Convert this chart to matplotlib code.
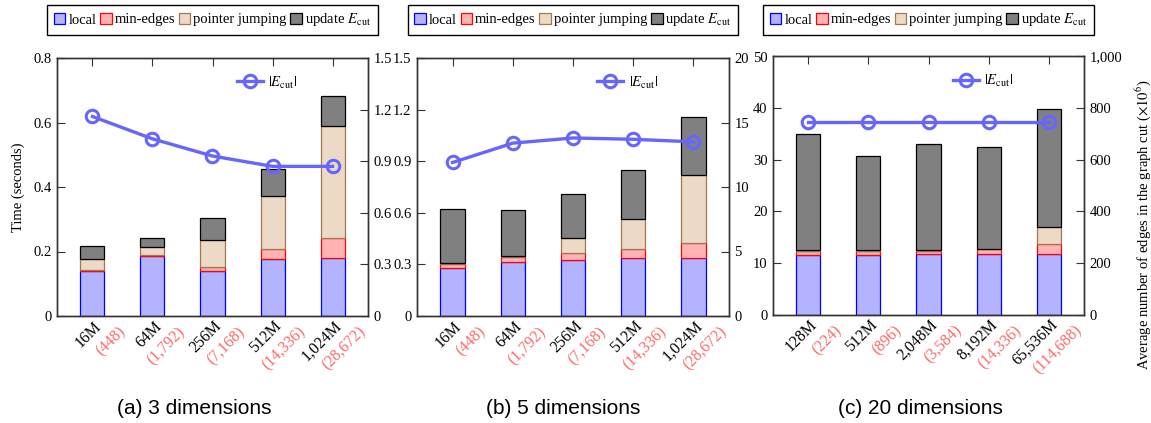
import matplotlib
matplotlib.use("Agg")
import matplotlib.pyplot as plt
from matplotlib.patches import Patch
import matplotlib.transforms as mtrans
import numpy as np

plt.rcParams['font.family'] = 'serif'
plt.rcParams['font.serif'] = ['Liberation Serif', 'DejaVu Serif']
plt.rcParams['mathtext.fontset'] = 'stix'

# ---------------- data ----------------
series_names = ['local', 'min-edges', 'pointer jumping', r'update $E_{\mathrm{cut}}$']

# (a) 3 dimensions
a_sizes = ['16M', '64M', '256M', '512M', '1,024M']
a_parts = ['(448)', '(1,792)', '(7,168)', '(14,336)', '(28,672)']
a_local = [0.140, 0.186, 0.140, 0.176, 0.180]
a_minedges = [0.003, 0.002, 0.011, 0.031, 0.061]
a_pointer = [0.033, 0.025, 0.085, 0.166, 0.349]
a_update = [0.041, 0.030, 0.067, 0.082, 0.093]
a_ecut = [1.16, 1.03, 0.93, 0.87, 0.87]

# (b) 5 dimensions
b_sizes = ['16M', '64M', '256M', '512M', '1,024M']
b_parts = ['(448)', '(1,792)', '(7,168)', '(14,336)', '(28,672)']
b_local = [0.277, 0.316, 0.326, 0.337, 0.339]
b_minedges = [0.025, 0.027, 0.040, 0.051, 0.087]
b_pointer = [0.004, 0.008, 0.087, 0.178, 0.392]
b_update = [0.316, 0.263, 0.254, 0.281, 0.341]
b_ecut = [11.9, 13.4, 13.8, 13.7, 13.5]

# (c) 20 dimensions
c_sizes = ['128M', '512M', '2,048M', '8,192M', '65,536M']
c_parts = ['(224)', '(896)', '(3,584)', '(14,336)', '(114,688)']
c_local = [11.6, 11.6, 11.7, 11.8, 11.8]
c_minedges = [0.8, 0.8, 0.7, 0.8, 1.8]
c_pointer = [0.05, 0.05, 0.05, 0.05, 3.45]
c_update = [22.55, 18.35, 20.55, 19.75, 22.75]
c_ecut = [748, 748, 748, 748, 748]

a_left_ticks = [0, 0.2, 0.4, 0.6, 0.8]
a_right_ticks = [0, 0.3, 0.6, 0.9, 1.2, 1.5]
b_left_ticks = [0, 0.3, 0.6, 0.9, 1.2, 1.5]
b_right_ticks = [0, 5, 10, 15, 20]
c_left_ticks = [0, 10, 20, 30, 40, 50]
c_right_ticks = [0, 200, 400, 600, 800, 1000]

captions = ['(a) 3 dimensions', '(b) 5 dimensions', '(c) 20 dimensions']

# ---------------- style ----------------
W, H = 1151, 423
fig = plt.figure(figsize=(W / 100, H / 100), dpi=100)

faces = ['#b3b3ff', '#ffb3b3', '#ecd9c6', '#808080']
edges = ['#0000ff', '#ff0000', '#a07850', '#000000']
line_color = '#6666ff'
red_lbl = '#ff6666'
spine_col = '#333333'
FS = 10.5      # tick labels
FS_LEG = 10.5  # legends
FS_X = 11.4    # x tick labels


def fmt_num(v):
    if float(v).is_integer():
        return '{:,}'.format(int(v))
    return '{:g}'.format(v)


def panel(px_rect, sizes, parts, segs, ecut, lticks, rticks, caption, cap_x,
          left_label=None):
    l, t, r, b = px_rect
    ax = fig.add_axes([l / W, 1 - b / H, (r - l) / W, (b - t) / H])
    x = np.arange(len(sizes))
    bottom = np.zeros(len(sizes))
    for vals, fc, ec in zip(segs, faces, edges):
        ax.bar(x, vals, 0.4, bottom=bottom, color=fc, edgecolor=ec, linewidth=0.9, zorder=2)
        bottom = bottom + np.array(vals)
    ax.set_xlim(-0.59, len(sizes) - 1 + 0.59)
    ax.set_ylim(lticks[0], lticks[-1])
    ax.set_yticks(lticks)
    ax.set_yticklabels([fmt_num(v) for v in lticks], fontsize=FS)
    ax.set_xticks(x)
    ax.set_xticklabels([])
    ax.tick_params(axis='x', top=True, bottom=False, direction='in', length=6,
                   color=spine_col)
    ax.tick_params(axis='y', direction='in', length=6, pad=4, color=spine_col)
    for s in ax.spines.values():
        s.set_color(spine_col)
        s.set_linewidth(1.0)
    if left_label:
        ax.set_ylabel(left_label, fontsize=FS, labelpad=6)

    # x tick labels (two coloured lines)
    base = mtrans.blended_transform_factory(ax.transData, ax.transAxes)
    tb = mtrans.offset_copy(base, fig=fig, x=1, y=-2, units='dots')
    tr = mtrans.offset_copy(base, fig=fig, x=25, y=-8, units='dots')
    for xi, s1, s2 in zip(x, sizes, parts):
        ax.text(xi, 0, s1, transform=tb, rotation=45, rotation_mode='anchor',
                ha='right', va='top', fontsize=FS_X, color='black')
        ax.text(xi, 0, s2, transform=tr, rotation=45, rotation_mode='anchor',
                ha='right', va='top', fontsize=FS_X, color=red_lbl)

    ax2 = ax.twinx()
    ax2.plot(x, ecut, color=line_color, lw=2.4, marker='o', ms=9,
             mfc='none', mec=line_color, mew=2.2, zorder=5,
             label=r'$|E_{\mathrm{cut}}|$')
    ax2.set_ylim(rticks[0], rticks[-1])
    ax2.set_yticks(rticks)
    ax2.set_yticklabels([fmt_num(v) for v in rticks], fontsize=FS)
    ax2.tick_params(axis='y', direction='in', length=6, pad=4, color=spine_col)
    for s in ax2.spines.values():
        s.set_color(spine_col)
        s.set_linewidth(1.0)
    ax2.legend(loc='center left', frameon=False, fontsize=FS_LEG,
               bbox_to_anchor=(0.54, 0.905), handlelength=1.8,
               handletextpad=0.35, borderpad=0.3)

    # top legend
    handles = [Patch(facecolor=fc, edgecolor=ec, linewidth=0.9) for fc, ec in zip(faces, edges)]
    cx = (l + r) / 2 / W
    leg = fig.legend(handles, series_names, loc='center', ncol=4,
                     bbox_to_anchor=(cx, 1 - 20 / H), bbox_transform=fig.transFigure,
                     fontsize=FS_LEG, frameon=True, fancybox=False, edgecolor='black',
                     handlelength=0.8, handleheight=0.8, handletextpad=0.2,
                     columnspacing=0.25, borderpad=0.45, borderaxespad=0.0,
                     framealpha=1)
    leg.get_frame().set_linewidth(1.0)

    fig.text(cap_x / W, 1 - 408 / H, caption, family='Liberation Sans',
             fontsize=15, ha='center', va='center')
    return ax, ax2


panel((57, 58, 368, 316), a_sizes, a_parts,
      [a_local, a_minedges, a_pointer, a_update], a_ecut,
      a_left_ticks, a_right_ticks, captions[0], 194.5, left_label='Time (seconds)')
panel((417, 58, 729, 316), b_sizes, b_parts,
      [b_local, b_minedges, b_pointer, b_update], b_ecut,
      b_left_ticks, b_right_ticks, captions[1], 563.5)
panel((773, 56.5, 1084, 314.5), c_sizes, c_parts,
      [c_local, c_minedges, c_pointer, c_update], c_ecut,
      c_left_ticks, c_right_ticks, captions[2], 920)

fig.text(1143 / W, 1 - 224.5 / H,
         r'Average number of edges in the graph cut ($\times 10^{6}$)',
         rotation=90, ha='center', va='center', fontsize=FS)

fig.savefig('out.png', dpi=100)
